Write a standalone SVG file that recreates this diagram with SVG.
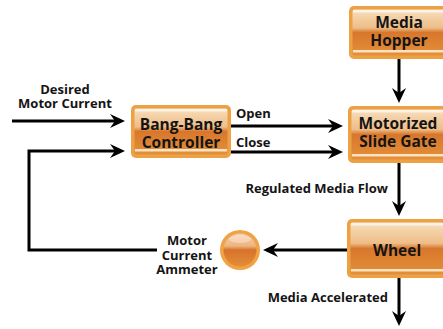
<svg xmlns="http://www.w3.org/2000/svg" width="443" height="329" viewBox="0 0 443 329">
<style>
.lbl{font-family:"Open Sans","Liberation Sans",sans-serif;font-weight:700;font-size:13px;fill:#141414}
.blbl{font-family:"Open Sans","Liberation Sans",sans-serif;font-weight:700;font-size:15.5px;fill:#141414;text-anchor:middle}
.outer{fill:#eca244}
.inner{fill:url(#boxg)}
.hiT{fill:#fff;opacity:.65}
.hiB{fill:#fbe2c0}
.wire{fill:none;stroke:#000;stroke-width:3}
</style>
<defs>
<linearGradient id="boxg" x1="0" y1="0" x2="0" y2="1">
<stop offset="0" stop-color="#f8e0c2"/>
<stop offset="0.15" stop-color="#f4d2a8"/>
<stop offset="0.4" stop-color="#eebd88"/>
<stop offset="0.5" stop-color="#d8772c"/>
<stop offset="0.8" stop-color="#df8634"/>
<stop offset="1" stop-color="#e3903a"/>
</linearGradient>
<linearGradient id="cirg" x1="0" y1="0" x2="0" y2="1">
<stop offset="0" stop-color="#f6cfa8"/>
<stop offset="0.38" stop-color="#efb47f"/>
<stop offset="0.5" stop-color="#d6732a"/>
<stop offset="1" stop-color="#e58d38"/>
</linearGradient>
<marker id="ah" markerUnits="userSpaceOnUse" viewBox="0 0 16 15" markerWidth="16" markerHeight="15" refX="7" refY="7.5" orient="auto">
<path d="M0,0.5 L15,7.5 L0,14.5 L5,7.5 z" fill="#000"/>
</marker>
</defs>

<g id="connectors">
<path class="wire" d="M12,121 H117" marker-end="url(#ah)"/>
<path class="wire" d="M157,250 H29 V151 H117" marker-end="url(#ah)"/>
<path class="wire" d="M231,126 H335" marker-end="url(#ah)"/>
<path class="wire" d="M231,152 H335" marker-end="url(#ah)"/>
<path class="wire" d="M399,59 V95" marker-end="url(#ah)"/>
<path class="wire" d="M399,163 V208" marker-end="url(#ah)"/>
<path class="wire" d="M347,250 H271" marker-end="url(#ah)"/>
<path class="wire" d="M399,278 V318" marker-end="url(#ah)"/>
<text class="lbl" x="65" y="94" text-anchor="middle">Desired</text>
<text class="lbl" x="65" y="108" text-anchor="middle">Motor Current</text>
<text class="lbl" x="236" y="118">Open</text>
<text class="lbl" x="236" y="147">Close</text>
<text class="lbl" x="388" y="193" text-anchor="end">Regulated Media Flow</text>
<text class="lbl" x="388" y="302" text-anchor="end">Media Accelerated</text>
</g>

<g id="bangbang">
<rect class="outer" x="131" y="105" width="100" height="53" rx="5"/>
<rect class="inner" x="134.5" y="108.5" width="93" height="46" rx="2"/>
<rect class="hiT" x="135" y="109" width="92" height="2.5"/>
<rect class="hiB" x="135" y="149" width="92" height="2.5"/>
<text class="blbl" x="181" y="130">Bang-Bang</text>
<text class="blbl" x="181" y="148">Controller</text>
</g>

<g id="hopper">
<rect class="outer" x="349" y="6" width="100" height="53" rx="5"/>
<rect class="inner" x="352.5" y="9.5" width="93" height="46" rx="2"/>
<rect class="hiT" x="353" y="10" width="92" height="2.5"/>
<rect class="hiB" x="353" y="50" width="92" height="2.5"/>
<text class="blbl" x="399" y="28">Media</text>
<text class="blbl" x="399" y="46">Hopper</text>
</g>

<g id="slidegate">
<rect class="outer" x="348" y="106" width="100" height="57" rx="5"/>
<rect class="inner" x="351.5" y="109.5" width="93" height="50" rx="2"/>
<rect class="hiT" x="352" y="110" width="92" height="2.5"/>
<rect class="hiB" x="352" y="154" width="92" height="2.5"/>
<text class="blbl" x="398" y="129">Motorized</text>
<text class="blbl" x="398" y="147">Slide Gate</text>
</g>

<g id="wheel">
<rect class="outer" x="347" y="219" width="100" height="59" rx="5"/>
<rect class="inner" x="350.5" y="222.5" width="93" height="52" rx="2"/>
<rect class="hiT" x="351" y="223" width="92" height="2.5"/>
<rect class="hiB" x="351" y="269" width="92" height="2.5"/>
<text class="blbl" x="397" y="256">Wheel</text>
</g>

<g id="ammeter">
<circle cx="240" cy="250" r="20" fill="#f0a244"/>
<circle cx="240" cy="250" r="16.5" fill="url(#cirg)"/>
<ellipse cx="240" cy="239" rx="11" ry="4" fill="#fff" opacity=".3"/>
<text class="lbl" x="187" y="245" text-anchor="middle">Motor</text>
<text class="lbl" x="187" y="259.5" text-anchor="middle">Current</text>
<text class="lbl" x="187" y="274" text-anchor="middle">Ammeter</text>
</g>
</svg>
